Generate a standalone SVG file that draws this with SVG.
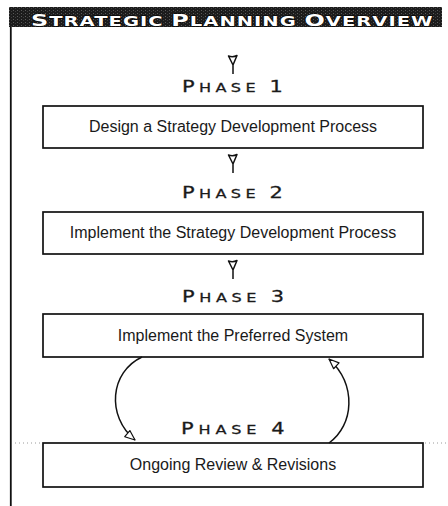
<svg xmlns="http://www.w3.org/2000/svg" xmlns:xlink="http://www.w3.org/1999/xlink" width="448" height="506" viewBox="0 0 448 506">
  <style>
    .box { fill: #ffffff; stroke: #111111; stroke-width: 1.7; }
    .label { font-family: "Liberation Sans", Arial, sans-serif; font-size: 16px; fill: #1a1a1a; text-anchor: middle; }
    .phase { font-family: "DejaVu Sans", "Liberation Sans", sans-serif; fill: #1a1a1a; stroke: #1a1a1a; stroke-width: 0.25; }
    .big { font-size: 15px; }
    .small { font-size: 11.5px; }
    .title { font-family: "DejaVu Sans", "Liberation Sans", sans-serif; font-weight: bold; fill: #ffffff; stroke: #000000; stroke-width: 1; paint-order: stroke; }
    .link { fill: none; stroke: #111111; stroke-width: 1.5; }
    .dots { stroke: #9a9a9a; stroke-width: 1; stroke-dasharray: 1 3; }
  </style>
  <defs>
    <!-- small down tick: hollow head with a short stem -->
    <path id="tick" d="M-4.5,0 Q0,1.5 4,-0.5 L0,9 Z M0,9 L0,18" fill="none" stroke="#111111" stroke-width="1.5" stroke-linejoin="round"/>
    <marker id="open-head" viewBox="0 0 12 10" refX="11" refY="5" markerWidth="12" markerHeight="10" markerUnits="userSpaceOnUse" orient="auto">
      <path d="M1,1 L11,5 L1,9 Z" fill="#ffffff" stroke="#111111" stroke-width="1.2" stroke-linejoin="round"/>
    </marker>
    <!-- grainy fill for the title band -->
    <pattern id="grain" width="4" height="3" patternUnits="userSpaceOnUse">
      <rect width="4" height="3" fill="#1c1c1c"/>
      <rect x="1" y="1" width="1" height="1" fill="#5a5a5a"/>
      <rect x="3" y="2" width="1" height="1" fill="#3c3c3c"/>
    </pattern>
  </defs>

  <rect width="448" height="506" fill="#ffffff"/>

  <!-- title banner and side rule -->
  <g id="header">
    <rect x="9" y="7" width="433" height="20" fill="url(#grain)"/>
    <text class="title" transform="translate(31,26) scale(1.45,1)" x="0" y="0" textLength="277" lengthAdjust="spacing"><tspan font-size="16.5">S</tspan><tspan font-size="13.5">TRATEGIC </tspan><tspan font-size="16.5">P</tspan><tspan font-size="13.5">LANNING </tspan><tspan font-size="16.5">O</tspan><tspan font-size="13.5">VERVIEW</tspan></text>
    <line x1="10.8" y1="27" x2="10.8" y2="506" stroke="#111111" stroke-width="1.8"/>
  </g>

  <!-- phase 1 -->
  <g id="phase1">
    <use xlink:href="#tick" href="#tick" x="233" y="56"/>
    <text class="phase" transform="translate(182,92) scale(1.4,1)" x="0" y="0" textLength="72" lengthAdjust="spacing"><tspan class="big">P</tspan><tspan class="small">HASE </tspan><tspan class="big">1</tspan></text>
    <rect class="box" x="43" y="106" width="380" height="42"/>
    <text class="label" x="233" y="132">Design a Strategy Development Process</text>
  </g>

  <!-- phase 2 -->
  <g id="phase2">
    <use xlink:href="#tick" href="#tick" x="233" y="155"/>
    <text class="phase" transform="translate(182,198) scale(1.4,1)" x="0" y="0" textLength="72" lengthAdjust="spacing"><tspan class="big">P</tspan><tspan class="small">HASE </tspan><tspan class="big">2</tspan></text>
    <rect class="box" x="43" y="212" width="380" height="42"/>
    <text class="label" x="233" y="238">Implement the Strategy Development Process</text>
  </g>

  <!-- phase 3 -->
  <g id="phase3">
    <use xlink:href="#tick" href="#tick" x="233" y="261"/>
    <text class="phase" transform="translate(182,302) scale(1.4,1)" x="0" y="0" textLength="73" lengthAdjust="spacing"><tspan class="big">P</tspan><tspan class="small">HASE </tspan><tspan class="big">3</tspan></text>
    <rect class="box" x="43" y="314" width="380" height="43"/>
    <text class="label" x="233" y="341">Implement the Preferred System</text>
  </g>

  <!-- phase 4 -->
  <g id="phase4">
    <text class="phase" transform="translate(181,434) scale(1.4,1)" x="0" y="0" textLength="74" lengthAdjust="spacing"><tspan class="big">P</tspan><tspan class="small">HASE </tspan><tspan class="big">4</tspan></text>
    <line class="dots" x1="15" y1="443" x2="42" y2="443"/>
    <line class="dots" x1="425" y1="443" x2="448" y2="443"/>
    <rect class="box" x="43" y="443" width="380" height="44"/>
    <text class="label" x="233" y="470">Ongoing Review &amp; Revisions</text>
  </g>

  <!-- feedback loop between phase 3 and phase 4 -->
  <g id="connectors">
    <path class="link" d="M142,357 C110,372 106,416 135,440" marker-end="url(#open-head)"/>
    <path class="link" d="M329,443 C354,425 357,385 329,359" marker-end="url(#open-head)"/>
  </g>
</svg>
